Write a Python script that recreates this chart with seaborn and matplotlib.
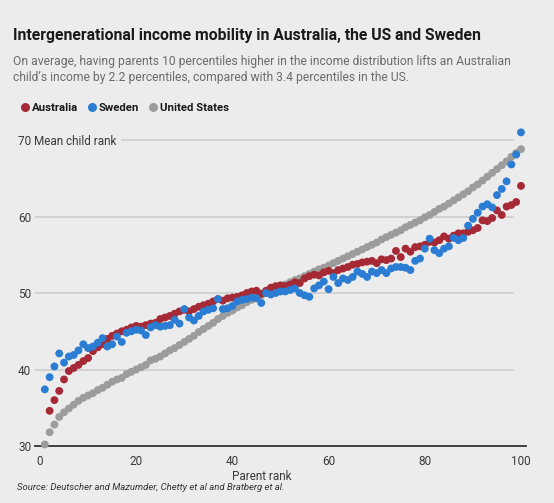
import numpy as np
import pandas as pd
import matplotlib
matplotlib.use("Agg")
import matplotlib.pyplot as plt
import seaborn as sns
from matplotlib.lines import Line2D

# Mean child income rank by parent income rank (percentiles)
us_rank = list(range(1, 101))
united_states = [
    30.2, 31.8, 32.8, 33.8, 34.4, 34.9, 35.4, 35.9, 36.3, 36.6,
    36.9, 37.3, 37.6, 38.0, 38.4, 38.7, 38.9, 39.4, 39.7, 40.0,
    40.3, 40.6, 41.2, 41.4, 41.7, 42.1, 42.5, 42.8, 43.2, 43.6,
    44.0, 44.4, 44.9, 45.3, 45.7, 46.1, 46.6, 47.0, 47.4, 47.7,
    48.1, 48.4, 48.8, 49.1, 49.4, 49.7, 50.0, 50.3, 50.6, 50.9,
    51.1, 51.4, 51.7, 51.9, 52.2, 52.5, 52.8, 53.1, 53.3, 53.6,
    53.9, 54.2, 54.5, 54.8, 55.1, 55.4, 55.7, 56.0, 56.3, 56.6,
    57.0, 57.3, 57.6, 57.9, 58.2, 58.6, 58.9, 59.2, 59.5, 59.9,
    60.2, 60.6, 61.0, 61.3, 61.7, 62.1, 62.5, 62.9, 63.3, 63.8,
    64.2, 64.7, 65.2, 65.7, 66.2, 66.7, 67.2, 67.8, 68.3, 68.8,
]

aus_rank = list(range(2, 101))
australia = [
    34.6, 36.0, 37.2, 38.7, 39.8, 40.2, 40.6, 41.1, 41.5,
    42.4, 42.9, 43.3, 44.0, 44.4, 44.7, 45.0, 45.2, 45.5, 45.7,
    45.6, 45.8, 46.0, 46.1, 46.6, 46.8, 47.0, 47.3, 47.6, 47.8,
    47.6, 47.9, 48.2, 48.4, 48.6, 48.9, 49.2, 49.0, 49.3, 49.4,
    49.5, 49.7, 50.0, 50.2, 50.3, 49.9, 50.3, 50.7, 50.9, 51.0,
    50.9, 51.1, 51.4, 51.3, 51.9, 52.2, 52.4, 52.3, 52.7, 52.9,
    52.6, 53.0, 53.2, 53.4, 53.7, 53.8, 54.0, 54.1, 54.2, 53.9,
    54.4, 54.3, 54.5, 55.5, 54.7, 55.8, 55.4, 56.0, 56.1, 56.3,
    56.7, 56.6, 56.9, 57.4, 57.1, 57.5, 57.8, 57.8, 58.0, 58.2,
    58.5, 59.5, 59.4, 59.8, 60.8, 60.2, 61.3, 61.5, 61.9, 64.0,
]

swe_rank = list(range(1, 101))
sweden = [
    37.4, 39.0, 40.4, 42.1, 40.9, 41.7, 41.9, 42.5, 43.3, 42.8,
    43.0, 43.5, 44.1, 43.0, 43.3, 44.3, 43.6, 44.8, 45.0, 45.2,
    45.1, 44.5, 45.5, 45.8, 45.6, 45.7, 45.8, 46.5, 46.0, 47.9,
    46.8, 46.4, 47.0, 47.6, 47.8, 48.0, 49.2, 47.9, 48.0, 48.3,
    48.9, 49.1, 49.2, 49.4, 49.3, 48.7, 50.0, 49.8, 50.0, 50.2,
    50.2, 50.4, 50.6, 50.0, 49.7, 49.5, 50.6, 51.0, 51.5, 50.5,
    52.1, 51.3, 51.9, 51.7, 52.1, 52.8, 52.5, 52.1, 52.8, 52.6,
    53.0, 52.6, 53.2, 53.4, 53.4, 53.3, 53.0, 54.2, 54.5, 55.8,
    57.1, 55.6, 55.2, 55.8, 56.1, 57.2, 56.9, 57.2, 58.8, 59.7,
    60.5, 61.3, 61.6, 61.2, 62.8, 63.6, 64.6, 66.8, 68.1, 71.0,
]

countries = ["Australia", "Sweden", "United States"]
colors = {"Australia": "#a52a36", "Sweden": "#2b7dd4", "United States": "#9c9c9c"}

# long-form table, US first so it sits underneath
df = pd.concat([
    pd.DataFrame({"parent": us_rank, "child": united_states, "country": "United States"}),
    pd.DataFrame({"parent": aus_rank, "child": australia, "country": "Australia"}),
    pd.DataFrame({"parent": swe_rank, "child": sweden, "country": "Sweden"}),
], ignore_index=True)

sns.set_style("white")
plt.rcParams["font.family"] = ["Roboto", "DejaVu Sans"]

bg = "#ececec"
W, H = 554, 503
fig = plt.figure(figsize=(W / 100, H / 100), dpi=100, facecolor=bg)
ax = fig.add_axes([35 / W, 57 / H, 491 / W, 318 / H])
ax.set_facecolor(bg)

sns.scatterplot(data=df, x="parent", y="child", hue="country", palette=colors,
                s=32, linewidth=0, legend=False, ax=ax, clip_on=False, zorder=3)

ax.set_xlim(-1.04, 101.04)
ax.set_ylim(30, 71.57)

# gridlines stop short of the right edge
for v in [40, 50, 60, 70]:
    ax.axhline(v, xmin=0, xmax=(513 - 35) / 491, color="#cccccc", lw=1.2, zorder=0)

for s in ["top", "right", "left"]:
    ax.spines[s].set_visible(False)
ax.spines["bottom"].set_color("#333333")
ax.spines["bottom"].set_linewidth(1.3)

ax.set_xticks([0, 20, 40, 60, 80, 100])
ax.tick_params(axis="x", direction="out", length=4, width=1.2, color="#333333",
               labelsize=8.5, labelcolor="#3a3a3a", pad=2.5)

ax.set_yticks([30, 40, 50, 60, 70])
ax.set_yticklabels(["30", "40", "50", "60", "70 Mean child rank"])
ax.tick_params(axis="y", length=0, labelsize=8.5, labelcolor="#3a3a3a", pad=12.2)
for lab in ax.get_yticklabels():
    lab.set_horizontalalignment("left")
top_lab = ax.get_yticklabels()[-1]
top_lab.set_bbox(dict(facecolor=bg, edgecolor="none", pad=3))

ax.set_xlabel("")
ax.set_ylabel("")

fig.text(262 / W, 1 - 477 / H, "Parent rank", ha="center", va="center",
         fontsize=8.5, color="#3a3a3a")

fig.text(12.7 / W, 1 - 40 / H, "Intergenerational income mobility in Australia, the US and Sweden",
         ha="left", va="baseline", fontsize=11.3, fontweight="bold", color="#1a1a1a")
subtitle = [
    "On average, having parents 10 percentiles higher in the income distribution lifts an Australian",
    "child\u2019s income by 2.2 percentiles, compared with 3.4 percentiles in the US.",
]
for i, line in enumerate(subtitle):
    fig.text(12.7 / W, 1 - (65 + 15.5 * i) / H, line, ha="left", va="baseline",
             fontsize=8.7, color="#6b6b6b")

handles = [Line2D([], [], marker="o", ls="", markersize=6.5, markeredgewidth=0,
                  color=colors[c]) for c in countries]
fig.legend(handles, countries, loc="center left", bbox_to_anchor=(15 / W, 1 - 108 / H),
           ncol=3, frameon=False, handlelength=0.8, handletextpad=0.2,
           columnspacing=0.8, borderpad=0, prop={"weight": "bold", "size": 8.2},
           labelcolor="#1a1a1a")

fig.text(17 / W, 1 - 488 / H,
         "Source: Deutscher and Mazumder, Chetty et al and Bratberg et al.",
         ha="left", va="center", fontsize=6.8, style="italic", color="#333333")

fig.savefig("out.png", dpi=100, facecolor=bg)
